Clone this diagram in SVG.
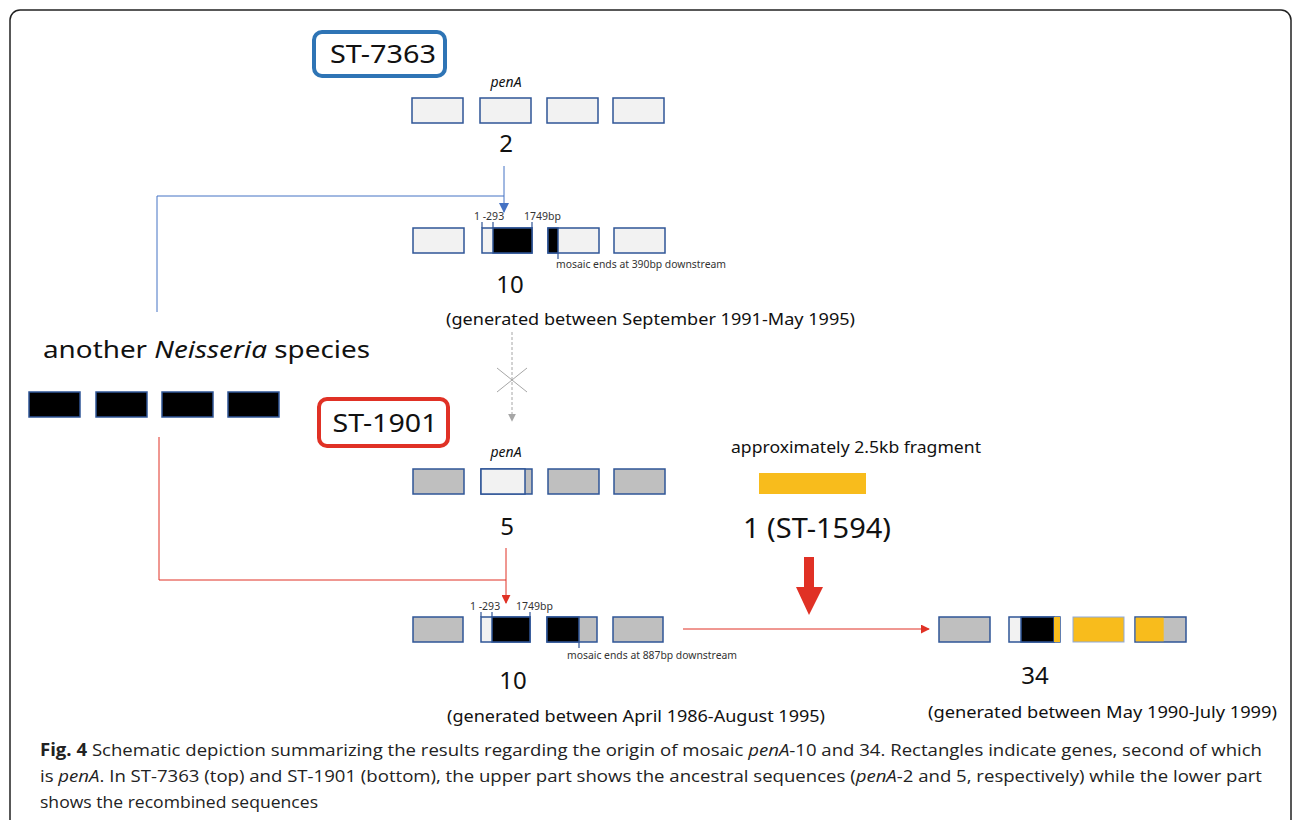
<svg xmlns="http://www.w3.org/2000/svg" width="1295" height="820" viewBox="0 0 1295 820">
<style>
.t{font-family:"Noto Sans","Liberation Sans",sans-serif;fill:#111}
.cap{font-family:"Liberation Sans Narrow","Open Sans","Liberation Sans",sans-serif;fill:#222;font-size:17px}
.g{stroke:#2F5597;stroke-width:1.5}
.lt{fill:#F2F2F2}
.gr{fill:#BFBFBF}
.bk{fill:#000}
.ye{fill:#F8BC1C}
.tick{stroke:#2F5597;stroke-width:1.2}
.sm{font-size:10.5px;fill:#333}
</style>
<defs>
<marker id="ab" viewBox="0 0 10 10" refX="9" refY="5" markerWidth="10" markerHeight="10" markerUnits="userSpaceOnUse" orient="auto"><path d="M0,0L10,5L0,10z" fill="#4472C4"/></marker>
<marker id="ar" viewBox="0 0 10 10" refX="9" refY="5" markerWidth="9" markerHeight="9" markerUnits="userSpaceOnUse" orient="auto"><path d="M0,0L10,5L0,10z" fill="#E03125"/></marker>
<marker id="ag" viewBox="0 0 10 10" refX="9" refY="5" markerWidth="8" markerHeight="8" markerUnits="userSpaceOnUse" orient="auto"><path d="M0,0L10,5L0,10z" fill="#A6A6A6"/></marker>
</defs>
<rect width="1295" height="820" fill="#fff"/>
<rect x="10" y="10" width="1281" height="830" rx="10" fill="none" stroke="#222" stroke-width="1.5"/>

<g id="connectors">
<polyline points="157,312 157,196 504,196" fill="none" stroke="#4472C4" stroke-width="1"/>
<line x1="504" y1="166" x2="504" y2="212" stroke="#4472C4" stroke-width="1" marker-end="url(#ab)"/>
<polyline points="159,437 159,580 506,580" fill="none" stroke="#E03125" stroke-width="1"/>
<line x1="506" y1="548" x2="506" y2="603" stroke="#E03125" stroke-width="1" marker-end="url(#ar)"/>
<line x1="512" y1="332" x2="512" y2="421" stroke="#A6A6A6" stroke-width="1" stroke-dasharray="3,2" marker-end="url(#ag)"/>
<line x1="497" y1="368" x2="527" y2="392" stroke="#A6A6A6" stroke-width="1"/>
<line x1="527" y1="368" x2="497" y2="392" stroke="#A6A6A6" stroke-width="1"/>
<line x1="683" y1="629" x2="929" y2="629" stroke="#E03125" stroke-width="1" marker-end="url(#ar)"/>
<polygon points="804,557 814,557 814,587 823,587 809,615 796,587 804,587" fill="#E03125"/>
</g>

<g id="st7363">
<rect x="314" y="32" width="131" height="44" rx="8" fill="#fff" stroke="#2E74B5" stroke-width="4"/>
<text class="t" x="383" y="63" font-size="26" text-anchor="middle" textLength="106" lengthAdjust="spacingAndGlyphs">ST-7363</text>
</g>

<g id="penA2">
<text class="t" x="506" y="87" font-size="14" font-style="italic" text-anchor="middle" fill="#333">penA</text>
<rect class="g lt" x="412" y="98" width="51" height="25"/>
<rect class="g lt" x="480" y="98" width="51" height="25"/>
<rect class="g lt" x="547" y="98" width="51" height="25"/>
<rect class="g lt" x="613" y="98" width="51" height="25"/>
<text class="t" x="506" y="152" font-size="24" text-anchor="middle">2</text>
</g>

<g id="penA10a">
<rect class="g lt" x="413" y="228" width="51" height="25"/>
<rect class="g lt" x="482" y="228" width="50" height="25"/>
<rect class="g bk" x="493" y="228" width="39" height="25"/>
<rect class="g lt" x="548" y="228" width="51" height="25"/>
<rect class="g bk" x="548" y="228" width="10" height="25"/>
<rect class="g lt" x="614" y="228" width="51" height="25"/>
<line class="tick" x1="482" y1="222" x2="482" y2="228"/>
<line class="tick" x1="493" y1="222" x2="493" y2="228"/>
<line class="tick" x1="532" y1="222" x2="532" y2="228"/>
<line class="tick" x1="558" y1="253" x2="558" y2="259"/>
<text class="t sm" x="474" y="220">1 -293</text>
<text class="t sm" x="524" y="220">1749bp</text>
<text class="t sm" x="556" y="268" textLength="170" lengthAdjust="spacingAndGlyphs">mosaic ends at 390bp downstream</text>
<text class="t" x="510" y="293" font-size="24" text-anchor="middle">10</text>
<text class="t" x="446" y="325" font-size="17" textLength="409" lengthAdjust="spacingAndGlyphs">(generated between September 1991-May 1995)</text>
</g>

<g id="neisseria">
<text class="t" x="43" y="358" font-size="24" textLength="327" lengthAdjust="spacingAndGlyphs">another <tspan font-style="italic">Neisseria</tspan> species</text>
<rect class="g bk" x="29" y="392" width="51" height="25"/>
<rect class="g bk" x="96" y="392" width="51" height="25"/>
<rect class="g bk" x="162" y="392" width="51" height="25"/>
<rect class="g bk" x="228" y="392" width="51" height="25"/>
</g>

<g id="st1901">
<rect x="319" y="399" width="129" height="47" rx="8" fill="#fff" stroke="#E03125" stroke-width="4"/>
<text class="t" x="385" y="432" font-size="26" text-anchor="middle" textLength="105" lengthAdjust="spacingAndGlyphs">ST-1901</text>
</g>

<g id="penA5">
<text class="t" x="506" y="457" font-size="14" font-style="italic" text-anchor="middle" fill="#333">penA</text>
<rect class="g gr" x="413" y="469" width="51" height="25"/>
<rect class="g gr" x="481" y="469" width="51" height="25"/>
<rect class="g lt" x="481" y="469" width="44" height="25"/>
<rect class="g gr" x="548" y="469" width="51" height="25"/>
<rect class="g gr" x="614" y="469" width="51" height="25"/>
<text class="t" x="507" y="535" font-size="24" text-anchor="middle">5</text>
</g>

<g id="fragment">
<text class="t" x="856" y="453" font-size="17" text-anchor="middle" textLength="250" lengthAdjust="spacingAndGlyphs">approximately 2.5kb fragment</text>
<rect class="ye" x="759" y="473" width="107" height="21"/>
<text class="t" x="817" y="538" font-size="28" text-anchor="middle" textLength="148" lengthAdjust="spacingAndGlyphs">1 (ST-1594)</text>
</g>

<g id="penA10b">
<rect class="g gr" x="413" y="617" width="50" height="25"/>
<rect class="g lt" x="481" y="617" width="49" height="25"/>
<rect class="g bk" x="492" y="617" width="38" height="25"/>
<rect class="g gr" x="547" y="617" width="50" height="25"/>
<rect class="g bk" x="547" y="617" width="32" height="25"/>
<rect class="g gr" x="613" y="617" width="50" height="25"/>
<line class="tick" x1="481" y1="612" x2="481" y2="617"/>
<line class="tick" x1="492" y1="612" x2="492" y2="617"/>
<line class="tick" x1="530" y1="612" x2="530" y2="617"/>
<line class="tick" x1="579" y1="642" x2="579" y2="648"/>
<text class="t sm" x="470" y="610">1 -293</text>
<text class="t sm" x="516" y="610">1749bp</text>
<text class="t sm" x="567" y="659" textLength="170" lengthAdjust="spacingAndGlyphs">mosaic ends at 887bp downstream</text>
<text class="t" x="513" y="689" font-size="24" text-anchor="middle">10</text>
<text class="t" x="447" y="722" font-size="17" textLength="378" lengthAdjust="spacingAndGlyphs">(generated between April 1986-August 1995)</text>
</g>

<g id="penA34">
<rect class="g gr" x="939" y="617" width="51" height="25"/>
<rect class="g lt" x="1009" y="617" width="51" height="25"/>
<rect class="g bk" x="1021" y="617" width="33" height="25"/>
<rect class="ye" x="1054" y="617" width="6" height="25"/>
<rect class="ye" x="1073" y="617" width="51" height="25" stroke="#8EA9DB" stroke-width="1"/>
<rect class="g gr" x="1135" y="617" width="51" height="25"/>
<rect class="ye" x="1135.7" y="617.7" width="28" height="23.6"/>
<text class="t" x="1035" y="684" font-size="24" text-anchor="middle">34</text>
<text class="t" x="928" y="718" font-size="17" textLength="349" lengthAdjust="spacingAndGlyphs">(generated between May 1990-July 1999)</text>
</g>

<g id="caption">
<text class="cap" x="40" y="756" textLength="1222" lengthAdjust="spacingAndGlyphs"><tspan font-weight="bold">Fig. 4</tspan> Schematic depiction summarizing the results regarding the origin of mosaic <tspan font-style="italic">penA</tspan>-10 and 34. Rectangles indicate genes, second of which</text>
<text class="cap" x="40" y="782" textLength="1222" lengthAdjust="spacingAndGlyphs">is <tspan font-style="italic">penA</tspan>. In ST-7363 (top) and ST-1901 (bottom), the upper part shows the ancestral sequences (<tspan font-style="italic">penA</tspan>-2 and 5, respectively) while the lower part</text>
<text class="cap" x="40" y="808" textLength="278" lengthAdjust="spacingAndGlyphs">shows the recombined sequences</text>
</g>
</svg>
